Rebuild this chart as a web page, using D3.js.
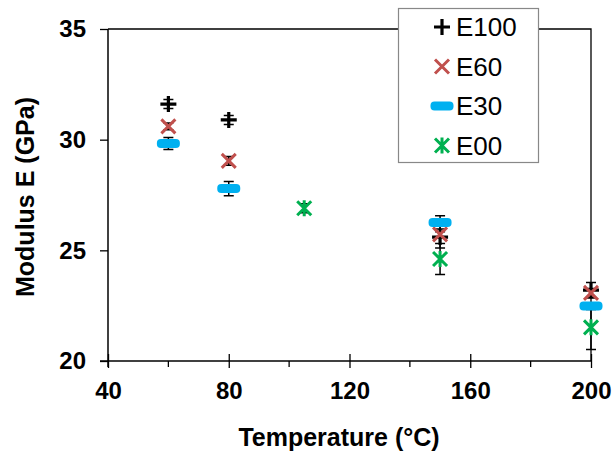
<!DOCTYPE html>
<html>
<head>
<meta charset="utf-8">
<script src="https://cdn.jsdelivr.net/npm/d3@7"></script>
<style>
  html, body { margin: 0; padding: 0; background: #fff; }
  svg { display: block; font-family: "Liberation Sans", Arial, sans-serif; }
</style>
</head>
<body>
<svg id="chart" width="613" height="457"></svg>
<script>
// Modulus of elasticity vs. temperature for four mixes
const seriesNames = ["E100", "E60", "E30", "E00"];
const temperatures = {
  E100: [60, 80, 150, 200],
  E60:  [60, 80, 150, 200],
  E30:  [60, 80, 150, 200],
  E00:  [105, 150, 200]
};
const modulus = {
  E100: [31.61, 30.89, 25.6, 23.2],
  E60:  [30.6, 29.04, 25.72, 23.08],
  E30:  [29.83, 27.79, 26.26, 22.48],
  E00:  [26.9, 24.61, 21.52]
};
const errors = {
  E100: [0.2, 0.2, 0.5, 0.35],
  E60:  [0.15, 0.2, 0.12, 0.2],
  E30:  [0.27, 0.32, 0.3, 0.15],
  E00:  [0.2, 0.7, 1.0]
};
const xTicks = [40, 80, 120, 160, 200];
const xMinorTicks = [60, 100, 140, 180];
const yTicks = [20, 25, 30, 35];
const colors = { E100: "#000000", E60: "#C0504D", E30: "#00B0F0", E00: "#00B050" };

const svg = d3.select("#chart");
const plotLeft = 108, plotRight = 591, plotTop = 29, plotBottom = 361;

const x = d3.scaleLinear().domain([40, 200]).range([plotLeft, plotRight]);
const y = d3.scaleLinear().domain([20, 35]).range([plotBottom, plotTop]);

// plot frame (top and right edges)
svg.append("path")
  .attr("d", `M${plotLeft},${plotTop}H${plotRight}V${plotBottom}`)
  .attr("fill", "none").attr("stroke", "#000").attr("stroke-width", 1.3);

// y axis
const yAxis = svg.append("g").attr("transform", `translate(${plotLeft},0)`)
  .call(d3.axisLeft(y).tickValues(yTicks).tickSize(8).tickPadding(14).tickFormat(d3.format("d")));
yAxis.select(".domain").attr("d", `M0,${plotTop}V${plotBottom + 6}`).attr("stroke-width", 1.5);
yAxis.selectAll(".tick line").attr("stroke-width", 1.3);
yAxis.selectAll(".tick text").attr("font-size", 24).attr("font-weight", "bold")
  .attr("font-family", "Liberation Sans, Arial, sans-serif").attr("fill", "#000");

// x axis with crossing major ticks and outward minor ticks
const xAxis = svg.append("g").attr("transform", `translate(0,${plotBottom})`)
  .call(d3.axisBottom(x).tickValues(xTicks).tickSize(7).tickPadding(14).tickFormat(d3.format("d")));
xAxis.select(".domain").attr("d", `M${plotLeft - 8},0H${plotRight}`).attr("stroke-width", 1.5);
xAxis.selectAll(".tick line").attr("y1", -7).attr("y2", 7).attr("stroke-width", 1.3);
xAxis.selectAll(".tick text").attr("font-size", 24).attr("font-weight", "bold")
  .attr("font-family", "Liberation Sans, Arial, sans-serif").attr("fill", "#000");
xAxis.selectAll(".minor").data(xMinorTicks).enter().append("line")
  .attr("x1", d => x(d)).attr("x2", d => x(d)).attr("y1", 0).attr("y2", 6)
  .attr("stroke", "#000").attr("stroke-width", 1.3);

// axis titles
svg.append("text").attr("x", 339).attr("y", 446).attr("text-anchor", "middle")
  .attr("font-size", 25).attr("font-weight", "bold").text("Temperature (°C)");
svg.append("text").attr("transform", "translate(34,197) rotate(-90)").attr("text-anchor", "middle")
  .attr("font-size", 25).attr("font-weight", "bold").text("Modulus E (GPa)");

// marker shapes
function drawMarker(g, name, cx, cy) {
  const c = colors[name];
  if (name === "E100") {
    g.append("path").attr("d", `M${cx - 8},${cy}H${cx + 8}M${cx},${cy - 8}V${cy + 8}`)
      .attr("stroke", c).attr("stroke-width", 3.2).attr("fill", "none");
  } else if (name === "E60") {
    g.append("path").attr("d", `M${cx - 7},${cy - 7}L${cx + 7},${cy + 7}M${cx - 7},${cy + 7}L${cx + 7},${cy - 7}`)
      .attr("stroke", c).attr("stroke-width", 3).attr("fill", "none");
  } else if (name === "E30") {
    g.append("rect").attr("x", cx - 11.5).attr("y", cy - 4.5).attr("width", 23).attr("height", 9)
      .attr("rx", 4).attr("fill", c);
  } else {
    g.append("path").attr("d", `M${cx - 7},${cy - 7}L${cx + 7},${cy + 7}M${cx - 7},${cy + 7}L${cx + 7},${cy - 7}M${cx},${cy - 8}V${cy + 8}`)
      .attr("stroke", c).attr("stroke-width", 3).attr("fill", "none");
  }
}

// error bars first, then markers on top
const plot = svg.append("g");
seriesNames.forEach(name => {
  const g = plot.append("g");
  temperatures[name].forEach((t, i) => {
    const v = modulus[name][i], e = errors[name][i];
    const cx = x(t), y1 = y(v + e), y2 = y(v - e);
    g.append("path").attr("d", `M${cx},${y1}V${y2}M${cx - 5},${y1}H${cx + 5}M${cx - 5},${y2}H${cx + 5}`)
      .attr("stroke", "#000").attr("stroke-width", 1.5).attr("fill", "none");
  });
});
seriesNames.forEach(name => {
  const g = plot.append("g");
  temperatures[name].forEach((t, i) => drawMarker(g, name, x(t), y(modulus[name][i])));
});

// legend
const legend = svg.append("g");
legend.append("rect").attr("x", 398.5).attr("y", 8.5).attr("width", 140).attr("height", 154)
  .attr("fill", "#fff").attr("stroke", "#888").attr("stroke-width", 1.2);
seriesNames.forEach((name, i) => {
  const cy = 27 + i * 39.5;
  drawMarker(legend, name, 442, cy);
  legend.append("text").attr("x", 456).attr("y", cy).attr("dy", "0.36em")
    .attr("font-size", 26).text(name);
});
</script>
</body>
</html>
